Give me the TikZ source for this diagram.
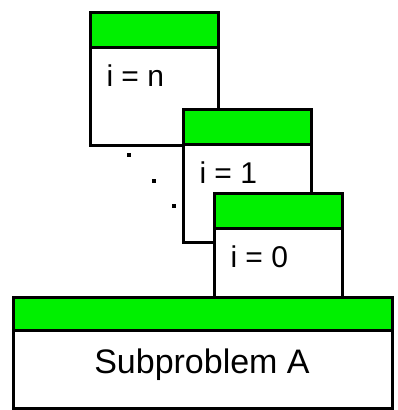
\documentclass[tikz,border=0pt]{standalone}
\usepackage{fontspec}
\setmainfont{Liberation Sans}
\usetikzlibrary{positioning}
\definecolor{bandgreen}{RGB}{0,240,0}

\begin{document}
\begin{tikzpicture}[x=1pt,y=-1pt,line width=3pt,line join=miter,
  every node/.style={inner sep=0pt,font=\fontsize{30}{34}\selectfont}]
  \useasboundingbox (0,0) rectangle (397,410);
  % stacked stages, drawn back to front
  \foreach \x/\y/\lab in {90/12/n,183/109/1,214/193/0} {
    \draw[fill=white] (\x,\y) rectangle ++(128,133);
    \draw[fill=bandgreen] (\x,\y) rectangle ++(128,35);
    \node[anchor=west] (stage\lab) at (\x+15,\y+64) {i = \lab};
  }
  % ellipsis dots
  \foreach \x/\y in {129/155,154/181,174/206}
    \fill (\x-2,\y-2) rectangle ++(4,4);
  % base problem
  \draw[fill=white] (13,297) rectangle (392,408);
  \draw[fill=bandgreen] (13,297) rectangle (392,330);
  \node[font=\fontsize{34}{38}\selectfont] (subA) at (202,365) {Subproblem A};
\end{tikzpicture}
\end{document}
